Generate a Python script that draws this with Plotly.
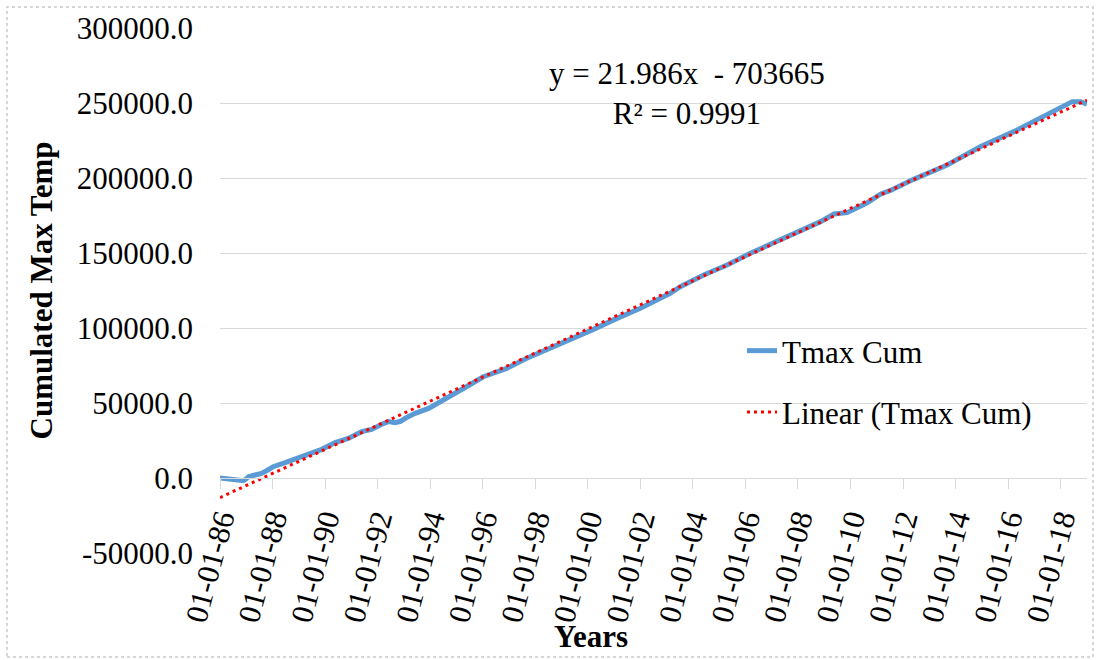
import pandas as pd
import plotly.graph_objects as go

# ---- data ----
dates = [
    "1986-01-01", "1986-04-01", "1986-06-15", "1986-09-15", "1986-11-20",
    "1987-01-01", "1987-02-01", "1987-05-01", "1987-08-01", "1987-10-15",
    "1988-01-10", "1988-06-25", "1988-12-01", "1989-05-10", "1989-11-15",
    "1990-05-20", "1990-11-20", "1991-05-25", "1991-10-10", "1992-02-28",
    "1992-05-30", "1992-09-01", "1992-11-15", "1993-01-20", "1993-06-05",
    "1993-12-10", "1994-07-25", "1995-04-20", "1996-01-10", "1996-12-01",
    "1997-09-05", "1998-07-25", "1999-06-15", "2000-03-20", "2001-02-10",
    "2002-01-01", "2003-02-20", "2003-07-10", "2004-05-30", "2005-04-20",
    "2006-03-10", "2007-03-15", "2008-02-05", "2008-11-10", "2009-05-15",
    "2009-11-15", "2010-08-20", "2011-02-20", "2011-07-10", "2012-05-25",
    "2013-09-05", "2014-12-15", "2016-03-20", "2017-06-28", "2018-06-10",
    "2018-10-05", "2018-12-31",
]
tmax_cum = [
    0, -700, -1300, -1600, -1800,
    -500, 900, 2000, 3100, 5000,
    7500, 10200, 13100, 16400, 19100,
    23600, 26400, 30900, 32400, 35800,
    37600, 36900, 37800, 39800, 43100,
    46400, 52400, 60000, 67500, 73100,
    79800, 86400, 93100, 99100, 106400,
    113100, 123100, 127500, 135300, 142000,
    149800, 157500, 164200, 170900, 176000,
    176900, 183500, 189200, 191700, 199100,
    208700, 221000, 230900, 242000, 250900,
    250900, 249300,
]
y_ticks = [-50000, 0, 50000, 100000, 150000, 200000, 250000, 300000]
trend_slope = 21.986
trend_intercept = -703665
r_squared = 0.9991

series_name = "Tmax Cum"
trend_name = "Linear (Tmax Cum)"
y_title = "Cumulated Max Temp"
x_title = "Years"

# ---- trendline (Excel serial-date based) ----
dt = pd.to_datetime(dates)
trend_x = [dt[0], dt[-1]]
serial = [(d - pd.Timestamp("1899-12-30")).days for d in trend_x]
trend_y = [trend_slope * s + trend_intercept for s in serial]

FONT = "Liberation Serif"
FS = 31
W, H = 1099, 660
ML, MR, MT, MB = 220, 12, 28, 107
PW, PH = W - ML - MR, H - MT - MB
YMIN, YMAX = y_ticks[0], y_ticks[-1]

def px_to_paper_x(px):
    return (px - ML) / PW

def px_to_paper_y(py):
    return (H - MB - py) / PH

fig = go.Figure()
fig.add_trace(go.Scatter(
    x=dt, y=tmax_cum, mode="lines", name=series_name,
    line=dict(color="#5B9BD5", width=5), legendgroup="a",
))
fig.add_trace(go.Scatter(
    x=trend_x, y=trend_y, mode="lines", name=trend_name,
    line=dict(color="#FF0000", width=3, dash="3px,4px"), legendgroup="b",
))

fig.update_layout(
    width=W, height=H,
    margin=dict(l=ML, r=MR, t=MT, b=MB, autoexpand=False),
    paper_bgcolor="white", plot_bgcolor="white",
    font=dict(family=FONT, size=FS, color="black"),
    showlegend=True,
    legend=dict(
        x=px_to_paper_x(742), y=px_to_paper_y(324), xanchor="left", yanchor="top",
        bgcolor="rgba(0,0,0,0)", font=dict(family=FONT, size=FS),
        traceorder="grouped", tracegroupgap=18,
    ),
    xaxis=dict(
        type="date",
        range=["1986-01-01", "2019-01-01"],
        tick0="1986-01-01", dtick="M24", tickformat="%d-%m-%y",
        tickangle=-75,
        anchor="free", position=(0 - YMIN) / (YMAX - YMIN),
        showline=True, linecolor="#d9d9d9", linewidth=1,
        ticks="outside", ticklen=10, tickcolor="#d9d9d9", tickwidth=1,
        showgrid=False, zeroline=False,
        tickfont=dict(family=FONT, size=FS),
    ),
    yaxis=dict(
        range=[YMIN, YMAX],
        tickmode="array", tickvals=y_ticks,
        ticktext=[f"{v:.1f}" for v in y_ticks],
        showgrid=True, gridcolor="#d9d9d9", gridwidth=1,
        zeroline=False, showline=False, ticks="",
        ticklabelstandoff=26,
        tickfont=dict(family=FONT, size=FS),
        title=dict(text="<b>" + y_title + "</b>", standoff=14,
                   font=dict(family=FONT, size=FS)),
    ),
)

fig.add_annotation(
    x=px_to_paper_x(687), y=px_to_paper_y(93), xref="paper", yref="paper",
    text=f"y = {trend_slope}x  - {abs(trend_intercept)}<br>R² = {r_squared}",
    showarrow=False, xanchor="center", yanchor="middle", align="center",
    font=dict(family=FONT, size=FS),
)
fig.add_annotation(
    x=px_to_paper_x(591), y=px_to_paper_y(636), xref="paper", yref="paper",
    text="<b>" + x_title + "</b>", showarrow=False,
    xanchor="center", yanchor="middle",
    font=dict(family=FONT, size=FS),
)
# dotted chart-area frame
fig.add_shape(
    type="rect", xref="paper", yref="paper",
    x0=px_to_paper_x(7), x1=px_to_paper_x(1093),
    y0=px_to_paper_y(657), y1=px_to_paper_y(7),
    line=dict(color="#c8c8c8", width=1.5, dash="dot"), layer="below",
)

fig.write_html("out.html")
